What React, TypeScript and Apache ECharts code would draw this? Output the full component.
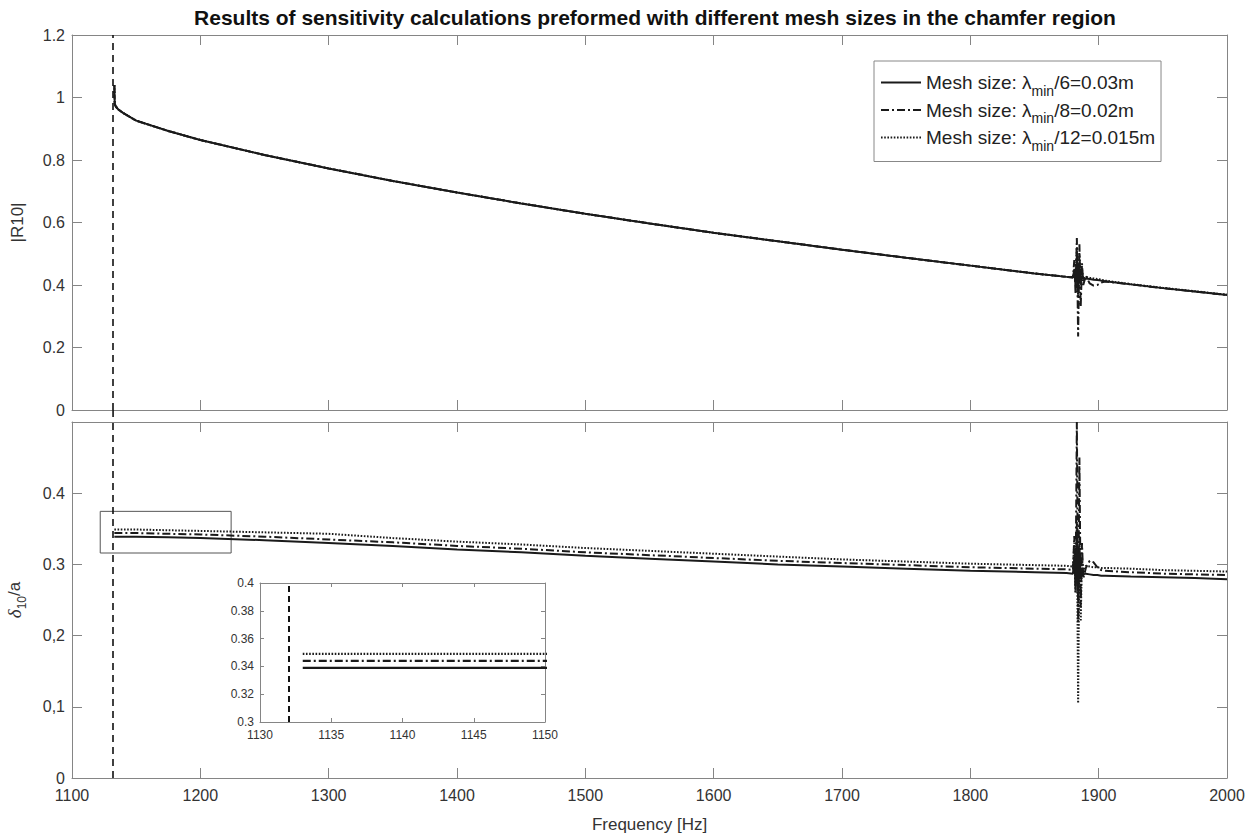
import React, { useEffect, useRef } from "react";
import * as echarts from "echarts";

// ---------- data ----------
const freq = [
  1133, 1133.3, 1134, 1136, 1140, 1150, 1175, 1200, 1250, 1300, 1350, 1400, 1450, 1500, 1550, 1600, 1650, 1700,
  1750, 1800, 1850, 1875, 1880, 1881, 1882, 1883, 1884, 1885, 1886, 1887, 1888, 1890, 1893, 1896, 1899, 1902,
  1905, 1925, 1950, 1975, 2000,
];

const r10Solid = [
  1.04, 0.98, 0.972, 0.962, 0.95, 0.926, 0.893, 0.864, 0.816, 0.773, 0.733, 0.696, 0.661, 0.628, 0.597, 0.567,
  0.54, 0.513, 0.487, 0.462, 0.437, 0.426, 0.424, 0.45, 0.4, 0.49, 0.38, 0.47, 0.41, 0.43, 0.42, 0.421, 0.419,
  0.417, 0.416, 0.414, 0.412, 0.402, 0.39, 0.379, 0.368,
];
const r10DashDot = [
  1.04, 0.98, 0.972, 0.962, 0.95, 0.926, 0.893, 0.864, 0.816, 0.773, 0.733, 0.696, 0.661, 0.628, 0.597, 0.567,
  0.54, 0.513, 0.487, 0.462, 0.437, 0.426, 0.424, 0.48, 0.37, 0.55, 0.235, 0.53, 0.33, 0.47, 0.4, 0.43, 0.405,
  0.398, 0.4, 0.408, 0.411, 0.402, 0.39, 0.379, 0.368,
];
const r10Dotted = [
  1.04, 0.98, 0.972, 0.962, 0.95, 0.926, 0.893, 0.864, 0.816, 0.773, 0.733, 0.696, 0.661, 0.628, 0.597, 0.567,
  0.54, 0.513, 0.487, 0.462, 0.437, 0.426, 0.426, 0.44, 0.41, 0.52, 0.36, 0.5, 0.4, 0.45, 0.42, 0.426, 0.423,
  0.421, 0.419, 0.417, 0.414, 0.403, 0.391, 0.38, 0.369,
];

const deltaSolid = [
  0.339, 0.339, 0.339, 0.339, 0.339, 0.339, 0.338, 0.337, 0.334, 0.33, 0.326, 0.321, 0.317, 0.312, 0.308, 0.304,
  0.3, 0.297, 0.294, 0.291, 0.289, 0.288, 0.287, 0.31, 0.27, 0.34, 0.26, 0.32, 0.28, 0.295, 0.286, 0.287, 0.286,
  0.285, 0.285, 0.284, 0.284, 0.283, 0.282, 0.281, 0.279,
];
const deltaDashDot = [
  0.344, 0.344, 0.344, 0.344, 0.344, 0.344, 0.343, 0.342, 0.339, 0.335, 0.331, 0.326, 0.322, 0.317, 0.313, 0.309,
  0.305, 0.302, 0.299, 0.296, 0.294, 0.293, 0.292, 0.34, 0.26, 0.5, 0.22, 0.45, 0.24, 0.33, 0.28, 0.295, 0.305,
  0.303, 0.296, 0.292, 0.291, 0.289, 0.287, 0.286, 0.285,
];
const deltaDotted = [
  0.349, 0.349, 0.349, 0.349, 0.349, 0.349, 0.348, 0.347, 0.345, 0.343, 0.337, 0.332, 0.328, 0.323, 0.319, 0.315,
  0.311, 0.307, 0.304, 0.301, 0.299, 0.298, 0.297, 0.33, 0.26, 0.36, 0.105, 0.34, 0.22, 0.31, 0.29, 0.298, 0.297,
  0.296, 0.296, 0.295, 0.295, 0.294, 0.292, 0.291, 0.29,
];

const cutoffFreq = 1132;
const zoomBox = { x0: 1122, x1: 1224, y0: 0.316, y1: 0.3745 };

const legendPrefix = "Mesh size: λ";
const legendSub = "min";
const legendSuffix = ["/6=0.03m", "/8=0.02m", "/12=0.015m"];
const seriesNames = legendSuffix.map((s) => legendPrefix + legendSub + s);

const topYLabels = ["0", "0.2", "0.4", "0.6", "0.8", "1", "1.2"];
const bottomYLabels = ["0", "0,1", "0,2", "0.3", "0.4", ""];

const titleText = "Results of sensitivity calculations preformed with different mesh sizes in the chamfer region";

// ---------- styles ----------
const FONT = "Liberation Sans, Arial, sans-serif";
const AXIS_GREY = "#858585";
const LABEL = "#333";
const LINE = "#1a1a1a";
const lineTypes: any[] = ["solid", [8, 3, 2, 3], [1.6, 1.6]];

const pairs = (ys: number[]) => freq.map((f, i) => [f, ys[i]]);

export default function App() {
  const ref = useRef<HTMLDivElement>(null);

  useEffect(() => {
    if (!ref.current) return;
    const chart = echarts.init(ref.current, null, { renderer: "svg" });

    const mkX = (grid: number, pos: "top" | "bottom", showLabel: boolean, min: number, max: number, interval: number, tickLen: number, fontSize: number, extra: any = {}) => ({
      type: "value",
      gridIndex: grid,
      position: pos,
      min,
      max,
      interval,
      axisLine: { show: true, onZero: false, lineStyle: { color: AXIS_GREY, width: 1 } },
      axisTick: { show: true, inside: true, length: tickLen, lineStyle: { color: AXIS_GREY } },
      axisLabel: { show: showLabel, color: LABEL, fontFamily: FONT, fontSize, margin: fontSize > 13 ? 9 : 7, formatter: (v: number) => String(v) },
      splitLine: { show: false },
      ...extra,
    });
    const mkY = (grid: number, pos: "left" | "right", showLabel: boolean, min: number, max: number, interval: number, tickLen: number, fontSize: number, extra: any = {}) => ({
      type: "value",
      gridIndex: grid,
      position: pos,
      min,
      max,
      interval,
      axisLine: { show: true, onZero: false, lineStyle: { color: AXIS_GREY, width: 1 } },
      axisTick: { show: true, inside: true, length: tickLen, lineStyle: { color: AXIS_GREY } },
      axisLabel: { show: showLabel, color: LABEL, fontFamily: FONT, fontSize, margin: 7 },
      splitLine: { show: false },
      ...extra,
    });

    const vline = {
      silent: true,
      symbol: "none",
      label: { show: false },
      lineStyle: { type: [7, 5], color: "#111", width: 1.6 },
      data: [{ xAxis: cutoffFreq }],
    };

    const topData = [r10Solid, r10DashDot, r10Dotted];
    const botData = [deltaSolid, deltaDashDot, deltaDotted];

    const series: any[] = [];
    topData.forEach((d, i) => {
      series.push({
        name: seriesNames[i],
        type: "line",
        xAxisIndex: 0,
        yAxisIndex: 0,
        data: pairs(d),
        symbol: "none",
        lineStyle: { color: LINE, width: 2, type: lineTypes[i] },
        itemStyle: { color: LINE },
        z: 3 - i,
        markLine: i === 0 ? vline : undefined,
      });
    });
    botData.forEach((d, i) => {
      series.push({
        name: seriesNames[i],
        type: "line",
        xAxisIndex: 2,
        yAxisIndex: 2,
        data: pairs(d),
        symbol: "none",
        lineStyle: { color: LINE, width: 2, type: lineTypes[i] },
        itemStyle: { color: LINE },
        z: 3 - i,
        markLine: i === 0 ? vline : undefined,
        markArea:
          i === 0
            ? {
                silent: true,
                itemStyle: { color: "rgba(0,0,0,0)", borderColor: "#555", borderWidth: 1 },
                data: [[{ xAxis: zoomBox.x0, yAxis: zoomBox.y1 }, { xAxis: zoomBox.x1, yAxis: zoomBox.y0 }]],
              }
            : undefined,
      });
    });
    botData.forEach((d, i) => {
      series.push({
        name: seriesNames[i],
        type: "line",
        xAxisIndex: 4,
        yAxisIndex: 4,
        data: pairs(d),
        symbol: "none",
        clip: true,
        lineStyle: { color: LINE, width: 2.2, type: lineTypes[i] },
        itemStyle: { color: LINE },
        z: 3 - i,
        markLine: i === 0 ? { ...vline, lineStyle: { type: [6, 4], color: "#111", width: 2 } } : undefined,
      });
    });

    const option: any = {
      animation: false,
      backgroundColor: "#fff",
      textStyle: { fontFamily: FONT },
      title: {
        text: titleText,
        left: 650,
        textAlign: "center",
        top: 2,
        textStyle: { fontFamily: FONT, fontSize: 21, fontWeight: "bold", color: "#111" },
      },
      legend: {
        data: seriesNames,
        orient: "vertical",
        left: 874,
        top: 61,
        itemWidth: 40,
        itemHeight: 14,
        itemGap: 3,
        padding: [12, 6, 9, 6],
        borderColor: "#888",
        borderWidth: 1,
        backgroundColor: "#fff",
        selectedMode: false,
        itemStyle: { color: "rgba(0,0,0,0)", borderColor: "rgba(0,0,0,0)", borderWidth: 0 },
        formatter: (name: string) => {
          const i = seriesNames.indexOf(name);
          return `{t|${legendPrefix}}{s|${legendSub}}{t|${legendSuffix[i]}}`;
        },
        textStyle: {
          color: "#222",
          fontFamily: FONT,
          rich: {
            t: { fontSize: 19, fontFamily: FONT, color: "#222", lineHeight: 22, verticalAlign: "middle" },
            s: { fontSize: 14, fontFamily: FONT, color: "#222", lineHeight: 30, verticalAlign: "bottom" },
          },
        },
      },
      grid: [
        { left: 72, top: 35, width: 1155, height: 375, outerBoundsMode: "none", containLabel: false },
        { left: 72, top: 422, width: 1155, height: 356, outerBoundsMode: "none", containLabel: false },
        { left: 260, top: 583, width: 285, height: 139, outerBoundsMode: "none", containLabel: false },
      ],
      xAxis: [
        mkX(0, "bottom", false, 1100, 2000, 100, 10, 16),
        mkX(0, "top", false, 1100, 2000, 100, 10, 16),
        mkX(1, "bottom", true, 1100, 2000, 100, 10, 16, {
          name: "Frequency [Hz]",
          nameLocation: "middle",
          nameGap: 38,
          nameTextStyle: { fontFamily: FONT, fontSize: 17, color: LABEL },
        }),
        mkX(1, "top", false, 1100, 2000, 100, 10, 16),
        mkX(2, "bottom", true, 1130, 1150, 5, 4, 12),
        mkX(2, "top", false, 1130, 1150, 5, 4, 12),
      ],
      yAxis: [
        mkY(0, "left", true, 0, 1.2, 0.2, 10, 16, {
          axisLabel: {
            show: true,
            color: LABEL,
            fontFamily: FONT,
            fontSize: 16,
            margin: 7,
            formatter: (v: number) => topYLabels[Math.round(v / 0.2)] ?? "",
          },
          name: "|R10|",
          nameLocation: "middle",
          nameGap: 46,
          nameRotate: 90,
          nameTextStyle: { fontFamily: FONT, fontSize: 17, color: LABEL },
        }),
        mkY(0, "right", false, 0, 1.2, 0.2, 10, 16),
        mkY(1, "left", true, 0, 0.5, 0.1, 10, 16, {
          axisLabel: {
            show: true,
            color: LABEL,
            fontFamily: FONT,
            fontSize: 16,
            margin: 7,
            formatter: (v: number) => bottomYLabels[Math.round(v / 0.1)] ?? "",
          },
          name: "{d|δ}{s|10}{n|/a}",
          nameLocation: "middle",
          nameGap: 44,
          nameRotate: 90,
          nameTextStyle: {
            fontFamily: FONT,
            fontSize: 17,
            color: LABEL,
            rich: {
              d: { fontFamily: "Liberation Serif, serif", fontStyle: "italic", fontSize: 19, color: LABEL, lineHeight: 22, verticalAlign: "middle" },
              s: { fontFamily: FONT, fontSize: 12, color: LABEL, lineHeight: 28, verticalAlign: "bottom" },
              n: { fontFamily: FONT, fontSize: 17, color: LABEL, lineHeight: 22, verticalAlign: "middle" },
            },
          },
        }),
        mkY(1, "right", false, 0, 0.5, 0.1, 10, 16),
        mkY(2, "left", true, 0.3, 0.4, 0.02, 4, 12, {
          axisLabel: {
            show: true,
            color: LABEL,
            fontFamily: FONT,
            fontSize: 12,
            margin: 6,
            formatter: (v: number) => String(Math.round(v * 100) / 100),
          },
        }),
        mkY(2, "right", false, 0.3, 0.4, 0.02, 4, 12),
      ],
      series,
    };

    chart.setOption(option);

    // continue the cut-off line through the gap between the two panels
    const px = chart.convertToPixel({ xAxisIndex: 0 }, cutoffFreq) as number;
    const yTopBottom = chart.convertToPixel({ yAxisIndex: 0 }, 0) as number;
    const yBotTop = chart.convertToPixel({ yAxisIndex: 2 }, 0.5) as number;
    chart.setOption({
      graphic: [
        {
          type: "line",
          silent: true,
          shape: { x1: px, y1: yTopBottom, x2: px, y2: yBotTop },
          style: { stroke: "#111", lineWidth: 1.6, lineDash: [7, 5] },
          z: 10,
        },
      ],
    });

    return () => chart.dispose();
  }, []);

  return <div ref={ref} style={{ position: "absolute", left: 0, top: 0, width: 1257, height: 837 }} />;
}
